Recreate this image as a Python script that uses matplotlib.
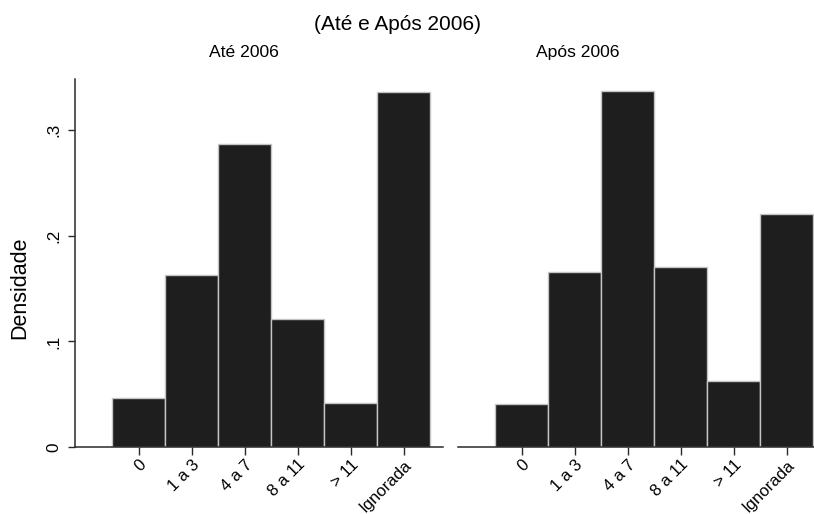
import matplotlib
matplotlib.use("Agg")
import matplotlib.pyplot as plt
from matplotlib.ticker import FuncFormatter

categories = ["0", "1 a 3", "4 a 7", "8 a 11", "> 11", "Ignorada"]
ate_2006 = [0.047, 0.163, 0.287, 0.121, 0.042, 0.336]
apos_2006 = [0.041, 0.166, 0.337, 0.170, 0.063, 0.220]
panel_titles = ["Até 2006", "Após 2006"]
main_title = "(Até e Após 2006)"
y_ticks = [0, 0.1, 0.2, 0.3]

plt.rcParams['font.family'] = ['Liberation Sans', 'DejaVu Sans']

fig = plt.figure(figsize=(8.14, 5.14), dpi=100)
W, H = 814, 514

def px_axes(left, right, top, bottom):
    return fig.add_axes([left / W, 1 - bottom / H, (right - left) / W, (bottom - top) / H])

ax1 = px_axes(75.3, 443, 79, 447.3)
ax2 = px_axes(458, 826, 79, 447.3)

bar_face = "#1e1e1e"
bar_edge = "#c4c4c4"
axis_col = "#2a2a2a"

def fmt(v, pos):
    if v == 0:
        return "0"
    return ("%.1f" % v).lstrip("0")

for ax, vals in zip([ax1, ax2], [ate_2006, apos_2006]):
    x = list(range(len(categories)))
    ax.bar(x, vals, width=1.0, color=bar_face, edgecolor=bar_edge, linewidth=1.0)
    ax.set_xlim(-1.2, 5.74)
    ax.set_ylim(0, 0.348)
    ax.set_xticks(x)
    ax.set_xticklabels(categories, rotation=45, ha="right", rotation_mode="anchor",
                       fontsize=12)
    ax.tick_params(axis="x", direction="out", length=5.5, width=1, color=axis_col, pad=1.5)
    for s in ["top", "right"]:
        ax.spines[s].set_visible(False)
    ax.spines["bottom"].set_color(axis_col)
    ax.spines["bottom"].set_linewidth(1.1)

ax1.spines["left"].set_color(axis_col)
ax1.spines["left"].set_linewidth(1.1)
ax1.set_yticks(y_ticks)
ax1.yaxis.set_major_formatter(FuncFormatter(fmt))
ax1.tick_params(axis="y", direction="out", length=5, width=1, color=axis_col, pad=5)
for lab in ax1.get_yticklabels():
    lab.set_rotation(90)
    lab.set_va("center")
    lab.set_fontsize(12.3)

ax2.spines["left"].set_visible(False)
ax2.set_yticks([])

fig.text(20 / W, 1 - 288 / H, "Densidade", rotation=90, ha="center", va="center", fontsize=15.5)
fig.text(397 / W, 1 - 30 / H, main_title, ha="center", va="baseline", fontsize=15)
fig.text(244 / W, 1 - 57 / H, panel_titles[0], ha="center", va="baseline", fontsize=12.6)
fig.text(578 / W, 1 - 57 / H, panel_titles[1], ha="center", va="baseline", fontsize=12.6)

fig.savefig("out.png", dpi=100)
plt.close(fig)
